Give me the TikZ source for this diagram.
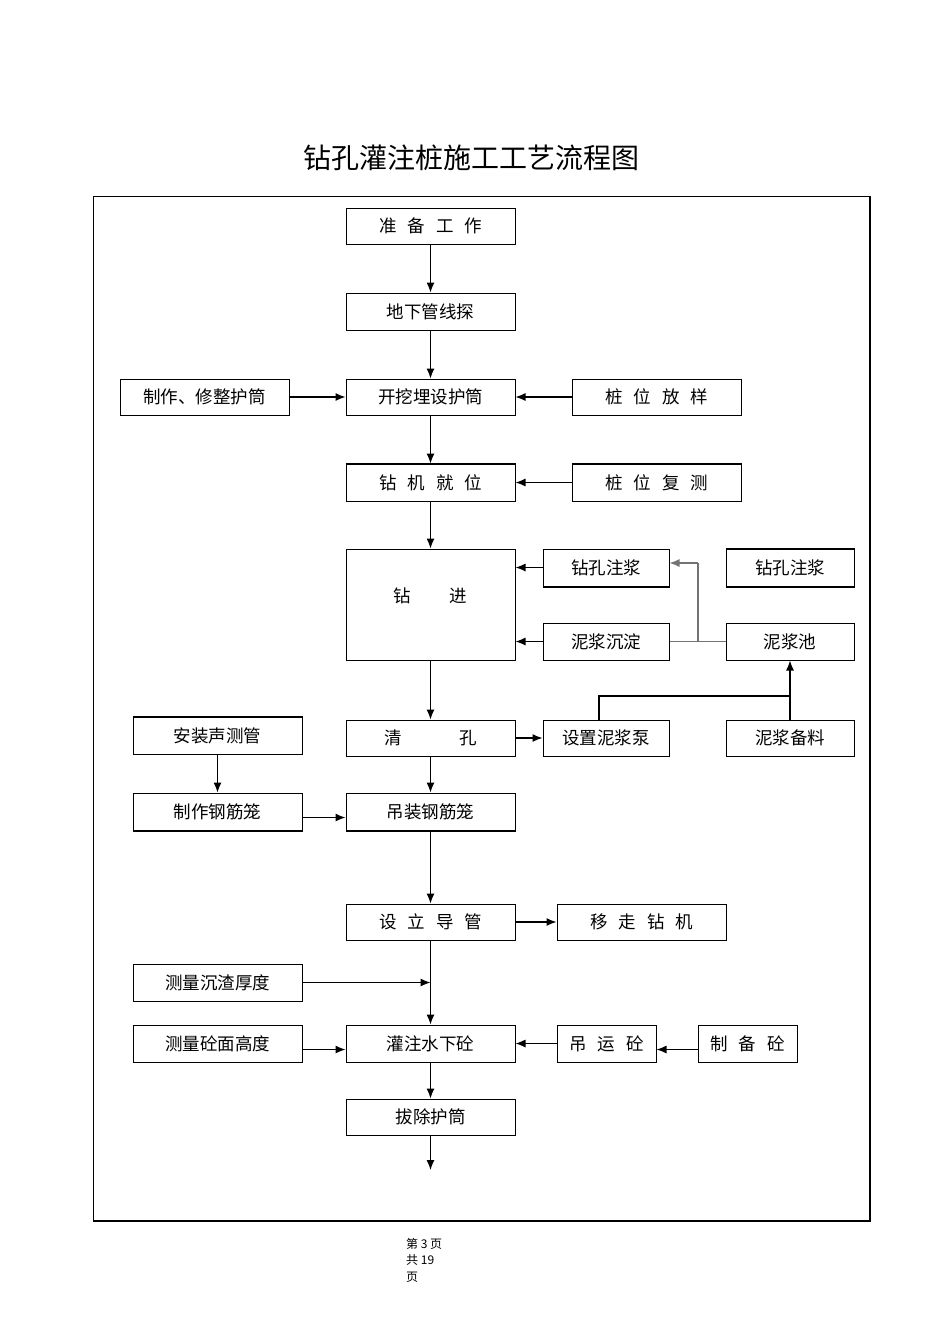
\documentclass[tikz,border=0pt]{standalone}
\usepackage{fontspec}
\newfontfamily\cjk{Noto Sans CJK SC}
\usetikzlibrary{arrows.meta}
\newcommand{\cgap}{\hspace{11pt}}
\begin{document}
\begin{tikzpicture}[x=1pt,y=-1pt,
  box/.style={draw, line width=1pt, inner sep=0pt, minimum width=169pt, minimum height=37pt,
    font=\cjk\fontsize{17.5pt}{17.5pt}\selectfont},
  arr/.style={line width=1.2pt, -{Latex[length=10pt,width=8pt]}},
  ln/.style={line width=1.2pt},
  gln/.style={line width=1.2pt, draw=black!55},
  thk/.style={line width=2pt}]
\useasboundingbox (0,0) rectangle (950,1318);
% title
\node (title) at (471,158) {\cjk\fontsize{28pt}{28pt}\selectfont 钻孔灌注桩施工工艺流程图};
% frame
\coordinate (f1) at (93,196);
\coordinate (f2) at (870,1221);
\draw[line width=1pt] (f1) rectangle (f2);
\draw[line width=1.8pt] (f1 -| f2) -- (f2) -- (f2 -| f1);
% boxes
\node[box, minimum height=36pt] (zb) at (430.5,226) {准\cgap 备\cgap 工\cgap 作};
\node[box] (dx) at (430.5,311.5) {地下管线探};
\node[box, minimum height=36pt] (zz) at (204.5,397) {制作、修整护筒};
\node[box, minimum height=36pt] (kw) at (430.5,397) {开挖埋设护筒};
\node[box, minimum height=36pt] (fy) at (656.5,397) {桩\cgap 位\cgap 放\cgap 样};
\node[box] (zj) at (430.5,482.5) {钻\cgap 机\cgap 就\cgap 位};
\node[box] (fc) at (656.5,482.5) {桩\cgap 位\cgap 复\cgap 测};
\node[box, minimum height=111pt] (jin) at (430.5,604.5) {\raisebox{18pt}{钻\hspace{39pt}进}};
\node[box, minimum width=126pt] (zkL) at (606,567.5) {钻孔注浆};
\node[box, minimum width=128pt] (zkR) at (790,567.5) {钻孔注浆};
\node[box, minimum width=126pt] (ncd) at (606,641.5) {泥浆沉淀};
\node[box, minimum width=128pt] (nc) at (790,641.5) {泥浆池};
\node[box] (az) at (217.5,735.5) {安装声测管};
\node[box, minimum height=36pt] (qk) at (430.5,738) {清\hspace{58pt}孔};
\node[box, minimum width=126pt, minimum height=36pt] (sz) at (606,738) {设置泥浆泵};
\node[box, minimum width=128pt, minimum height=36pt] (bl) at (790,738) {泥浆备料};
\node[box] (gj) at (217.5,811.5) {制作钢筋笼};
\node[box] (dz) at (430.5,811.5) {吊装钢筋笼};
\node[box, minimum height=36pt] (dg) at (430.5,922) {设\cgap 立\cgap 导\cgap 管};
\node[box, minimum height=36pt] (yz) at (641.5,922) {移\cgap 走\cgap 钻\cgap 机};
\node[box] (cz) at (217.5,982.5) {测量沉渣厚度};
\node[box] (cm) at (217.5,1043.5) {测量砼面高度};
\node[box] (gz) at (430.5,1043.5) {灌注水下砼};
\node[box, minimum width=99pt] (dy) at (606.5,1043.5) {吊\cgap 运\cgap 砼};
\node[box, minimum width=99pt] (zbt) at (747.5,1043.5) {制\cgap 备\cgap 砼};
\node[box, minimum height=36pt] (bc) at (430.5,1117) {拔除护筒};
% thicker edges
\draw[thk] (zj.north west) -- (zj.north east);
\draw[thk] (fc.north west) -- (fc.north east);
\draw[thk] (zkL.south west) -- (zkL.south east);
\draw[thk] (zkR.north west) -- (zkR.north east);
\draw[thk] (zkR.south west) -- (zkR.south east);
\draw[thk] (az.north west) -- (az.north east);
\draw[thk] (gj.south west) -- (gj.south east);
\draw[thk] (dz.south west) -- (dz.south east);
% main column
\draw[arr] (zb) -- (dx);
\draw[arr] (dx) -- (kw);
\draw[arr] (zz) -- (kw);
\draw[arr] (fy) -- (kw);
\draw[arr] (kw) -- (zj);
\draw[arr] (fc) -- (zj);
\draw[arr] (zj) -- (jin);
\draw[arr] (zkL.west) -- (zkL.west -| jin.east);
\draw[arr] (ncd.west) -- (ncd.west -| jin.east);
\draw[arr] (jin) -- (qk);
\draw[arr] (qk) -- (sz);
\draw[arr] (qk) -- (dz);
\draw[arr] (az) -- (gj);
\draw[arr] ([yshift=-6pt]gj.east) -- ([yshift=-6pt]dz.west);
\draw[arr] (dz) -- (dg);
\draw[arr] (dg) -- (yz);
\draw[arr] (dg) -- (gz);
\draw[arr] (cz.east) -- (cz.east -| dg.south);
\draw[arr] ([yshift=-6pt]cm.east) -- ([yshift=-6pt]gz.west);
\draw[arr] (dy) -- (gz);
\draw[arr] ([yshift=-6pt]zbt.west) -- ([yshift=-6pt]dy.east);
\draw[arr] (gz) -- (bc);
\coordinate (end) at (430.5,1170);
\draw[arr] (bc) -- (end);
% slurry loop
\coordinate (j1) at (698,641.5);
\coordinate (j2) at (698,563);
\draw[gln] (ncd.east) -- (nc.west);
\draw[gln] (j1) -- (j2);
\draw[arr, draw=black!55, fill=black] (j2) -- (j2 -| zkL.east);
\coordinate (p1) at (599,696);
\draw[ln] (sz.north -| p1) -- (p1) -- (p1 -| bl.north);
\draw[arr] (bl) -- (nc);
% page number
\node[anchor=west, inner sep=0pt, font=\cjk\fontsize{12pt}{12pt}\selectfont] (pg1) at (406,1244) {第 3 页};
\node[anchor=west, inner sep=0pt, font=\cjk\fontsize{12pt}{12pt}\selectfont] (pg2) at (406,1260) {共 19};
\node[anchor=west, inner sep=0pt, font=\cjk\fontsize{12pt}{12pt}\selectfont] (pg3) at (406,1277) {页};
\end{tikzpicture}
\end{document}
